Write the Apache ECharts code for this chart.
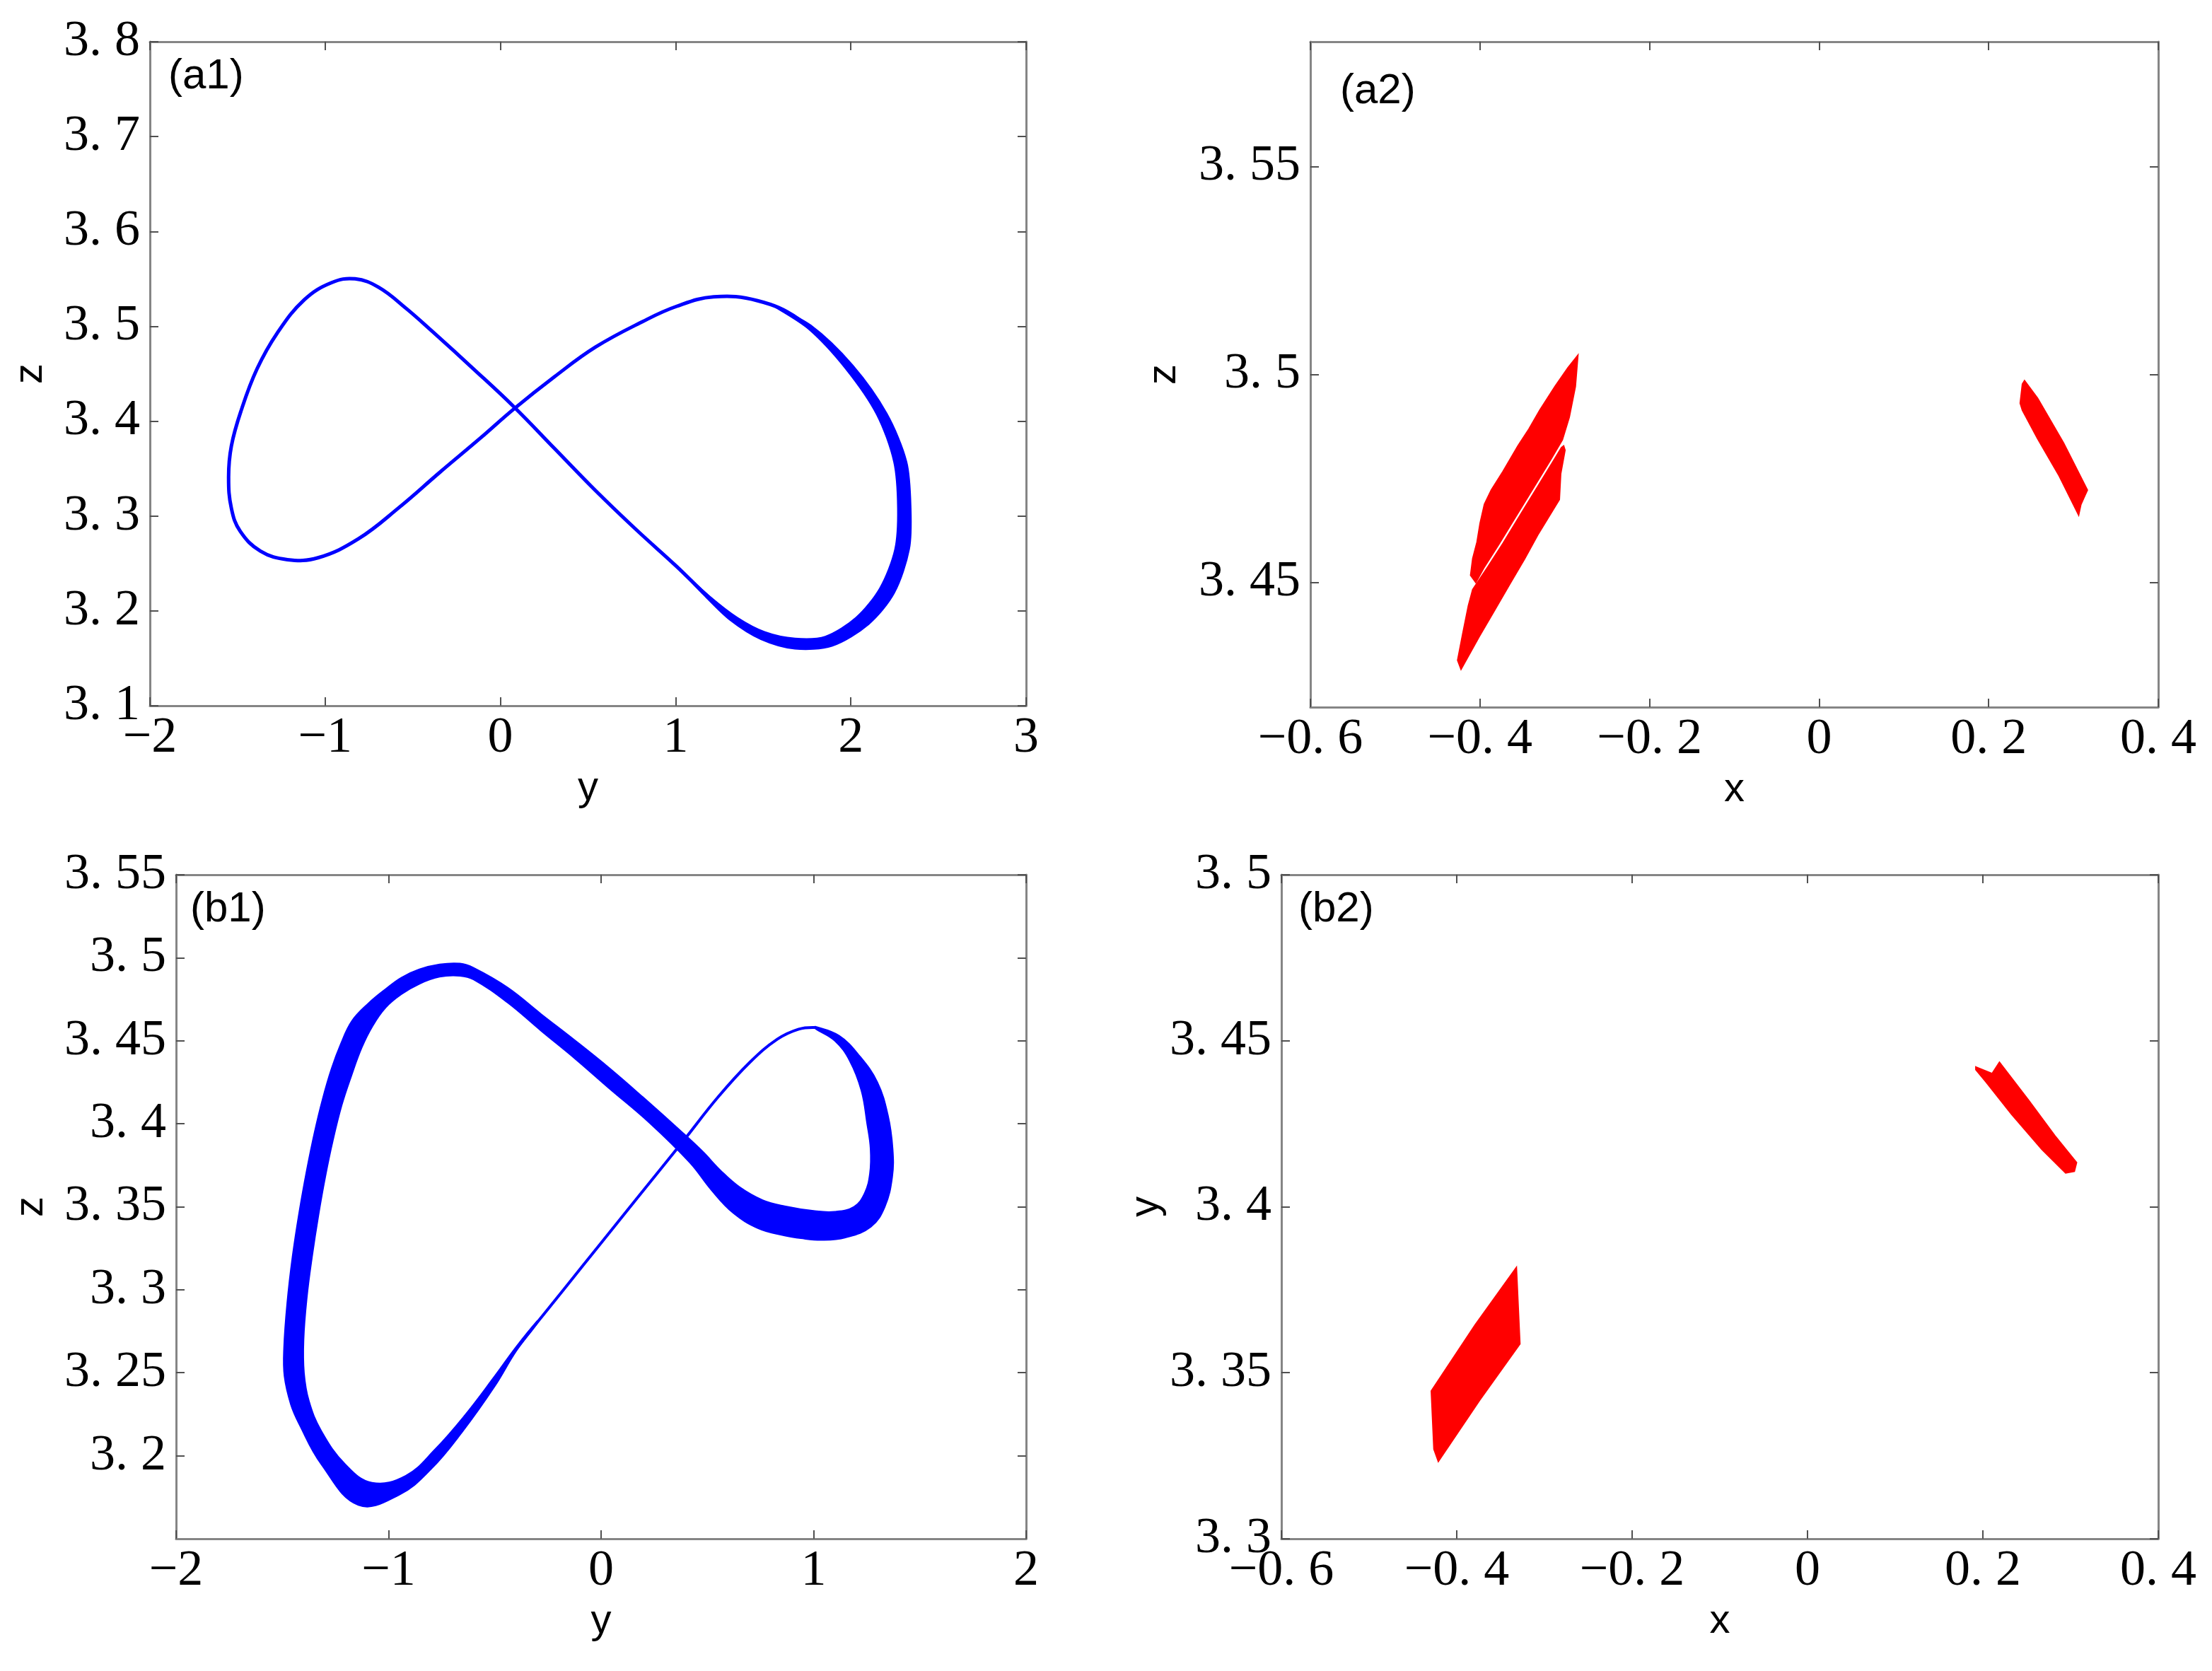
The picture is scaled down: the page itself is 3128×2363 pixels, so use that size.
<!DOCTYPE html>
<html>
<head>
<meta charset="utf-8">
<script src="https://cdn.jsdelivr.net/npm/echarts@6.0.0/dist/echarts.min.js"></script>
<style>
html, body { margin: 0; padding: 0; background: #fff; }
#chart { width: 3128px; height: 2363px; }
</style>
</head>
<body>
<div id="chart"></div>
<script>
// (a1) y-z projection: thin closed loop (centre line), right lobe is a band
const a1Loop = [
  [0.078, 3.415], [-0.153, 3.455], [-0.385, 3.494], [-0.539, 3.519], [-0.694, 3.541],
  [-0.829, 3.550], [-0.964, 3.546], [-1.119, 3.528], [-1.273, 3.493], [-1.389, 3.455],
  [-1.478, 3.412], [-1.535, 3.374], [-1.551, 3.341], [-1.535, 3.308], [-1.485, 3.284],
  [-1.369, 3.263], [-1.215, 3.254], [-1.041, 3.256], [-0.810, 3.276], [-0.578, 3.309],
  [-0.346, 3.346], [-0.115, 3.382], [0.078, 3.413], [0.310, 3.447], [0.542, 3.478],
  [0.812, 3.505], [1.005, 3.521], [1.217, 3.531], [1.468, 3.527], [1.700, 3.508],
  [1.970, 3.464], [2.163, 3.415], [2.279, 3.363], [2.306, 3.308], [2.290, 3.265],
  [2.201, 3.221], [2.066, 3.188], [1.873, 3.168], [1.681, 3.165], [1.507, 3.174],
  [1.391, 3.185], [1.198, 3.213], [1.005, 3.247], [0.773, 3.286], [0.542, 3.327],
  [0.310, 3.371]
];
const a1BandOuter = [
  [1.545, 3.523], [1.772, 3.501], [2.010, 3.459], [2.205, 3.408], [2.318, 3.357],
  [2.342, 3.308], [2.333, 3.265], [2.248, 3.219], [2.102, 3.186], [1.892, 3.163],
  [1.681, 3.160], [1.487, 3.170], [1.313, 3.190], [1.160, 3.217], [1.005, 3.247]
];
const a1BandInner = [
  [1.545, 3.523], [1.760, 3.497], [1.972, 3.455], [2.148, 3.407], [2.246, 3.357],
  [2.268, 3.308], [2.252, 3.265], [2.166, 3.224], [2.030, 3.193], [1.854, 3.173],
  [1.681, 3.171], [1.507, 3.178], [1.352, 3.193], [1.190, 3.216], [1.005, 3.247]
];

// (a2) section x-z: outlines of the two point clouds (left one split by a thin gap)
const a2LeftUpper = [
  [-0.2845, 3.5046], [-0.2875, 3.4971], [-0.2947, 3.4897], [-0.3028, 3.4843],
  [-0.3166, 3.4795], [-0.3370, 3.4727], [-0.3575, 3.4659], [-0.3779, 3.4591],
  [-0.3957, 3.4534], [-0.4049, 3.4500], [-0.4110, 3.4517], [-0.4085, 3.4557],
  [-0.4034, 3.4597], [-0.3998, 3.4642], [-0.3947, 3.4688], [-0.3866, 3.4722],
  [-0.3727, 3.4767], [-0.3549, 3.4829], [-0.3421, 3.4869], [-0.3294, 3.4914],
  [-0.3115, 3.4971], [-0.2962, 3.5016]
];
const a2LeftLower = [
  [-0.3013, 3.4828], [-0.2997, 3.4818], [-0.3048, 3.4761], [-0.3064, 3.4699],
  [-0.3166, 3.4665], [-0.3319, 3.4614], [-0.3472, 3.4557], [-0.3651, 3.4495],
  [-0.3830, 3.4432], [-0.4008, 3.4370], [-0.4223, 3.4291], [-0.4263, 3.4313],
  [-0.4203, 3.4376], [-0.4136, 3.4444], [-0.4085, 3.4483], [-0.3907, 3.4537],
  [-0.3727, 3.4594], [-0.3524, 3.4662], [-0.3319, 3.4730], [-0.3115, 3.4798],
  [-0.3038, 3.4824]
];
const a2Right = [
  [0.2423, 3.4985], [0.2576, 3.4943], [0.2883, 3.4835], [0.3164, 3.4722],
  [0.3137, 3.4710], [0.3087, 3.4687], [0.3061, 3.4662], [0.2832, 3.4756],
  [0.2576, 3.4846], [0.2398, 3.4914], [0.2372, 3.4931], [0.2398, 3.4977]
];

// (b1) y-z projection: thick band (two edges) plus the thin rising arm
const b1EdgeA = [
  [1.007, 3.4585], [1.120, 3.4530], [1.215, 3.4410], [1.300, 3.4250], [1.350, 3.4050],
  [1.372, 3.3850], [1.370, 3.3680], [1.335, 3.3500], [1.270, 3.3380], [1.150, 3.3315],
  [1.040, 3.3300], [0.940, 3.3310], [0.864, 3.3326], [0.740, 3.3370], [0.620, 3.3465],
  [0.520, 3.3600], [0.418, 3.3766], [0.227, 3.4007], [0.036, 3.4216], [-0.123, 3.4393],
  [-0.282, 3.4560], [-0.441, 3.4731], [-0.600, 3.4869], [-0.664, 3.4891], [-0.760, 3.4885],
  [-0.855, 3.4843], [-0.940, 3.4780], [-1.014, 3.4700], [-1.075, 3.4590], [-1.126, 3.4460],
  [-1.175, 3.4290], [-1.221, 3.4110], [-1.262, 3.3900], [-1.298, 3.3680], [-1.330, 3.3450],
  [-1.360, 3.3200], [-1.385, 3.2950], [-1.400, 3.2700], [-1.398, 3.2500], [-1.375, 3.2330],
  [-1.317, 3.2150], [-1.205, 3.1950], [-1.078, 3.1838], [-0.919, 3.1880], [-0.780, 3.2040],
  [-0.640, 3.2245], [-0.500, 3.2480], [-0.400, 3.2655], [-0.300, 3.2812]
];
const b1EdgeB = [
  [1.007, 3.4575], [1.100, 3.4500], [1.170, 3.4380], [1.225, 3.4200], [1.252, 3.4000],
  [1.268, 3.3850], [1.265, 3.3700], [1.240, 3.3580], [1.190, 3.3500], [1.100, 3.3470],
  [1.000, 3.3475], [0.864, 3.3503], [0.760, 3.3540], [0.650, 3.3620], [0.561, 3.3720],
  [0.480, 3.3830], [0.386, 3.3943], [0.195, 3.4162], [0.036, 3.4338], [-0.123, 3.4502],
  [-0.282, 3.4660], [-0.441, 3.4821], [-0.600, 3.4939], [-0.664, 3.4965], [-0.760, 3.4960],
  [-0.855, 3.4930], [-0.940, 3.4880], [-1.014, 3.4811], [-1.095, 3.4725], [-1.173, 3.4618],
  [-1.225, 3.4480], [-1.269, 3.4329], [-1.310, 3.4150], [-1.348, 3.3950], [-1.385, 3.3720],
  [-1.420, 3.3470], [-1.452, 3.3200], [-1.477, 3.2920], [-1.492, 3.2650], [-1.490, 3.2480],
  [-1.460, 3.2310], [-1.420, 3.2190], [-1.317, 3.1950], [-1.142, 3.1703], [-0.950, 3.1765],
  [-0.800, 3.1920], [-0.650, 3.2150], [-0.500, 3.2420], [-0.400, 3.2630], [-0.300, 3.2800]
];
const b1Arm = [
  [-0.450, 3.2550], [-0.400, 3.2643], [-0.173, 3.3006], [0.000, 3.3282], [0.159, 3.3535],
  [0.386, 3.3895], [0.550, 3.4160], [0.700, 3.4370], [0.830, 3.4510], [0.930, 3.4570],
  [1.007, 3.4580]
];

// (b2) section x-y: two solid patches
const b2Left = [
  [-0.332, 3.3817], [-0.328, 3.3587], [-0.374, 3.3417], [-0.421, 3.3233],
  [-0.426, 3.3270], [-0.429, 3.3445], [-0.379, 3.3644]
];
const b2Right = [
  [0.192, 3.4421], [0.2105, 3.4401], [0.2189, 3.4435], [0.2524, 3.4320],
  [0.2821, 3.4214], [0.3068, 3.4133], [0.3043, 3.4107], [0.2944, 3.4102],
  [0.2673, 3.4173], [0.2327, 3.4279], [0.2032, 3.4377], [0.192, 3.4413]
];

// tick values where the default interval cannot be used
const a2ZTicks = [3.45, 3.5, 3.55];
const b1ZTicks = [3.2, 3.25, 3.3, 3.35, 3.4, 3.45, 3.5, 3.55];

const BLUE = '#0000ff';
const RED = '#ff0000';

const fmt = v => String(+(+v).toFixed(4)).replace('-', '\u2212').replace('.', '. ');

const lineStyle = { color: '#858585', width: 3 };
const tickStyle = { show: true, inside: true, length: 12, lineStyle: { color: '#505050', width: 2 } };
const labelStyle = { fontFamily: 'Liberation Serif', fontSize: 72, color: '#000', formatter: fmt };
const nameStyle = { fontFamily: 'Liberation Sans', fontSize: 58, color: '#000' };

function xPair(g, min, max, interval, name) {
  const base = { type: 'value', gridIndex: g, min, max, interval, splitLine: { show: false },
    axisLine: { show: true, onZero: false, lineStyle } };
  return [
    Object.assign({}, base, { position: 'bottom', name, nameLocation: 'middle', nameGap: 88,
      nameTextStyle: nameStyle, axisTick: tickStyle,
      axisLabel: Object.assign({ margin: 10 }, labelStyle) }),
    Object.assign({}, base, { position: 'top', axisTick: tickStyle, axisLabel: { show: false } })
  ];
}

function yPair(g, min, max, interval, name, gap, custom) {
  const base = { type: 'value', gridIndex: g, min, max, splitLine: { show: false },
    axisLine: { show: true, onZero: false, lineStyle } };
  if (interval) base.interval = interval;
  const tick = custom ? Object.assign({ customValues: custom }, tickStyle) : tickStyle;
  const label = Object.assign({ margin: 14 }, labelStyle);
  if (custom) label.customValues = custom;
  return [
    Object.assign({}, base, { position: 'left', name, nameLocation: 'middle', nameGap: gap,
      nameRotate: 90, nameTextStyle: nameStyle, axisTick: tick, axisLabel: label }),
    Object.assign({}, base, { position: 'right', axisTick: tick, axisLabel: { show: false } })
  ];
}

// filled outlines (bands, point clouds) or open / closed strokes, all through api.coord
function shapeSeries(ax, shapes, opts) {
  return {
    type: 'custom',
    xAxisIndex: ax,
    yAxisIndex: ax,
    silent: true,
    data: shapes.map(s => s[0]),
    renderItem: (params, api) => ({
      type: opts.open ? 'polyline' : 'polygon',
      shape: { points: shapes[params.dataIndex].map(p => api.coord(p)), smooth: opts.smooth || 0 },
      style: opts.fill
        ? { fill: opts.color, stroke: opts.color, lineWidth: 2 }
        : { fill: null, stroke: opts.color, lineWidth: opts.width, lineJoin: 'round', lineCap: 'round' }
    })
  };
}

const chart = echarts.init(document.getElementById('chart'));
const titleStyle = { fontFamily: 'Liberation Sans', fontSize: 60, fontWeight: 'normal', color: '#000' };

chart.setOption({
  animation: false,
  backgroundColor: '#fff',
  title: [
    { text: '(a1)', left: 238, top: 78, padding: 0, textStyle: titleStyle },
    { text: '(a2)', left: 1895, top: 99, padding: 0, textStyle: titleStyle },
    { text: '(b1)', left: 269, top: 1256, padding: 0, textStyle: titleStyle },
    { text: '(b2)', left: 1836, top: 1256, padding: 0, textStyle: titleStyle }
  ],
  grid: [
    { left: 212, top: 59, width: 1239, height: 939 },
    { left: 1853, top: 59, width: 1199, height: 941 },
    { left: 249, top: 1237, width: 1202, height: 939 },
    { left: 1812, top: 1237, width: 1240, height: 939 }
  ],
  xAxis: [
    ...xPair(0, -2, 3, 1, 'y'),
    ...xPair(1, -0.6, 0.4, 0.2, 'x'),
    ...xPair(2, -2, 2, 1, 'y'),
    ...xPair(3, -0.6, 0.4, 0.2, 'x')
  ],
  yAxis: [
    ...yPair(0, 3.1, 3.8, 0.1, 'z', 140),
    ...yPair(1, 3.42, 3.58, null, 'z', 178, a2ZTicks),
    ...yPair(2, 3.15, 3.55, null, 'z', 176, b1ZTicks),
    ...yPair(3, 3.3, 3.5, 0.05, 'y', 144)
  ],
  series: [
    shapeSeries(0, [a1Loop], { color: BLUE, width: 5, smooth: 0.4 }),
    shapeSeries(0, [a1BandOuter.concat(a1BandInner.slice().reverse())], { color: BLUE, fill: true, smooth: 0.3 }),
    shapeSeries(2, [a2LeftUpper, a2LeftLower, a2Right], { color: RED, fill: true }),
    shapeSeries(4, [b1EdgeA.concat(b1EdgeB.slice().reverse())], { color: BLUE, fill: true, smooth: 0.4 }),
    shapeSeries(4, [b1Arm], { color: BLUE, width: 4, smooth: 0.4, open: true }),
    shapeSeries(6, [b2Left, b2Right], { color: RED, fill: true })
  ]
});
</script>
</body>
</html>
